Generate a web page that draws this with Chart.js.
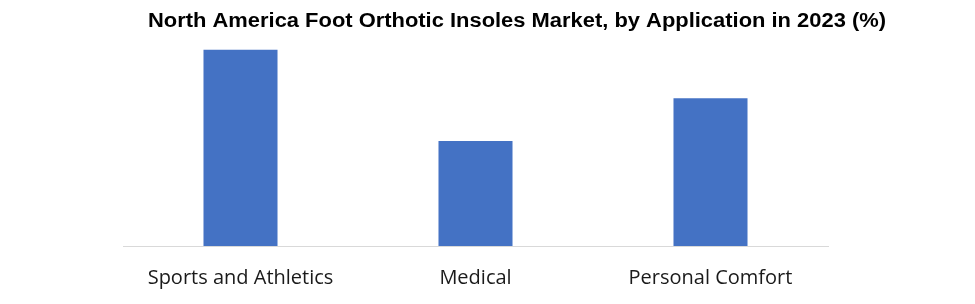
<!DOCTYPE html>
<html>
<head>
<meta charset="utf-8">
<script src="https://cdn.jsdelivr.net/npm/chart.js@4"></script>
<style>
  html, body { margin: 0; padding: 0; background: #fff; }
  #wrap { width: 975px; height: 304px; }
</style>
</head>
<body>
<div id="wrap"><canvas id="chart"></canvas></div>
<script>
// Market share by application
const categories = ["Sports and Athletics", "Medical", "Personal Comfort"];
const shares = [43.7, 23.4, 32.9];
const titleText = "North America Foot Orthotic Insoles Market, by Application in 2023 (%)";

// draws the title a bit right of centre like the original
const titlePlugin = {
  id: "offsetTitle",
  afterDraw(chart) {
    const ctx = chart.ctx;
    ctx.save();
    ctx.font = "bold 20px 'Liberation Sans', sans-serif";
    ctx.fillStyle = "#000";
    ctx.textBaseline = "alphabetic";
    const w = ctx.measureText(titleText).width;
    const target = 738;
    ctx.translate(148, 27);
    ctx.scale(target / w, 1);
    ctx.fillText(titleText, 0, 0);
    ctx.restore();
  }
};

new Chart(document.getElementById("chart"), {
  type: "bar",
  data: {
    labels: categories,
    datasets: [{ data: shares, backgroundColor: "#4472c4", barPercentage: 1, categoryPercentage: 0.315 }]
  },
  options: {
    responsive: true,
    maintainAspectRatio: false,
    animation: false,
    layout: { padding: { left: 123, right: 147, top: 44, bottom: 2 } },
    plugins: { legend: { display: false }, tooltip: { enabled: false } },
    scales: {
      y: { display: false, min: 0, max: 45 },
      x: {
        grid: { display: false },
        border: { color: "#d9d9d9", width: 1 },
        ticks: { color: "#1a1a1a", font: { family: "'Open Sans', sans-serif", size: 20 }, padding: 12 }
      }
    }
  },
  plugins: [titlePlugin]
});
</script>
</body>
</html>
